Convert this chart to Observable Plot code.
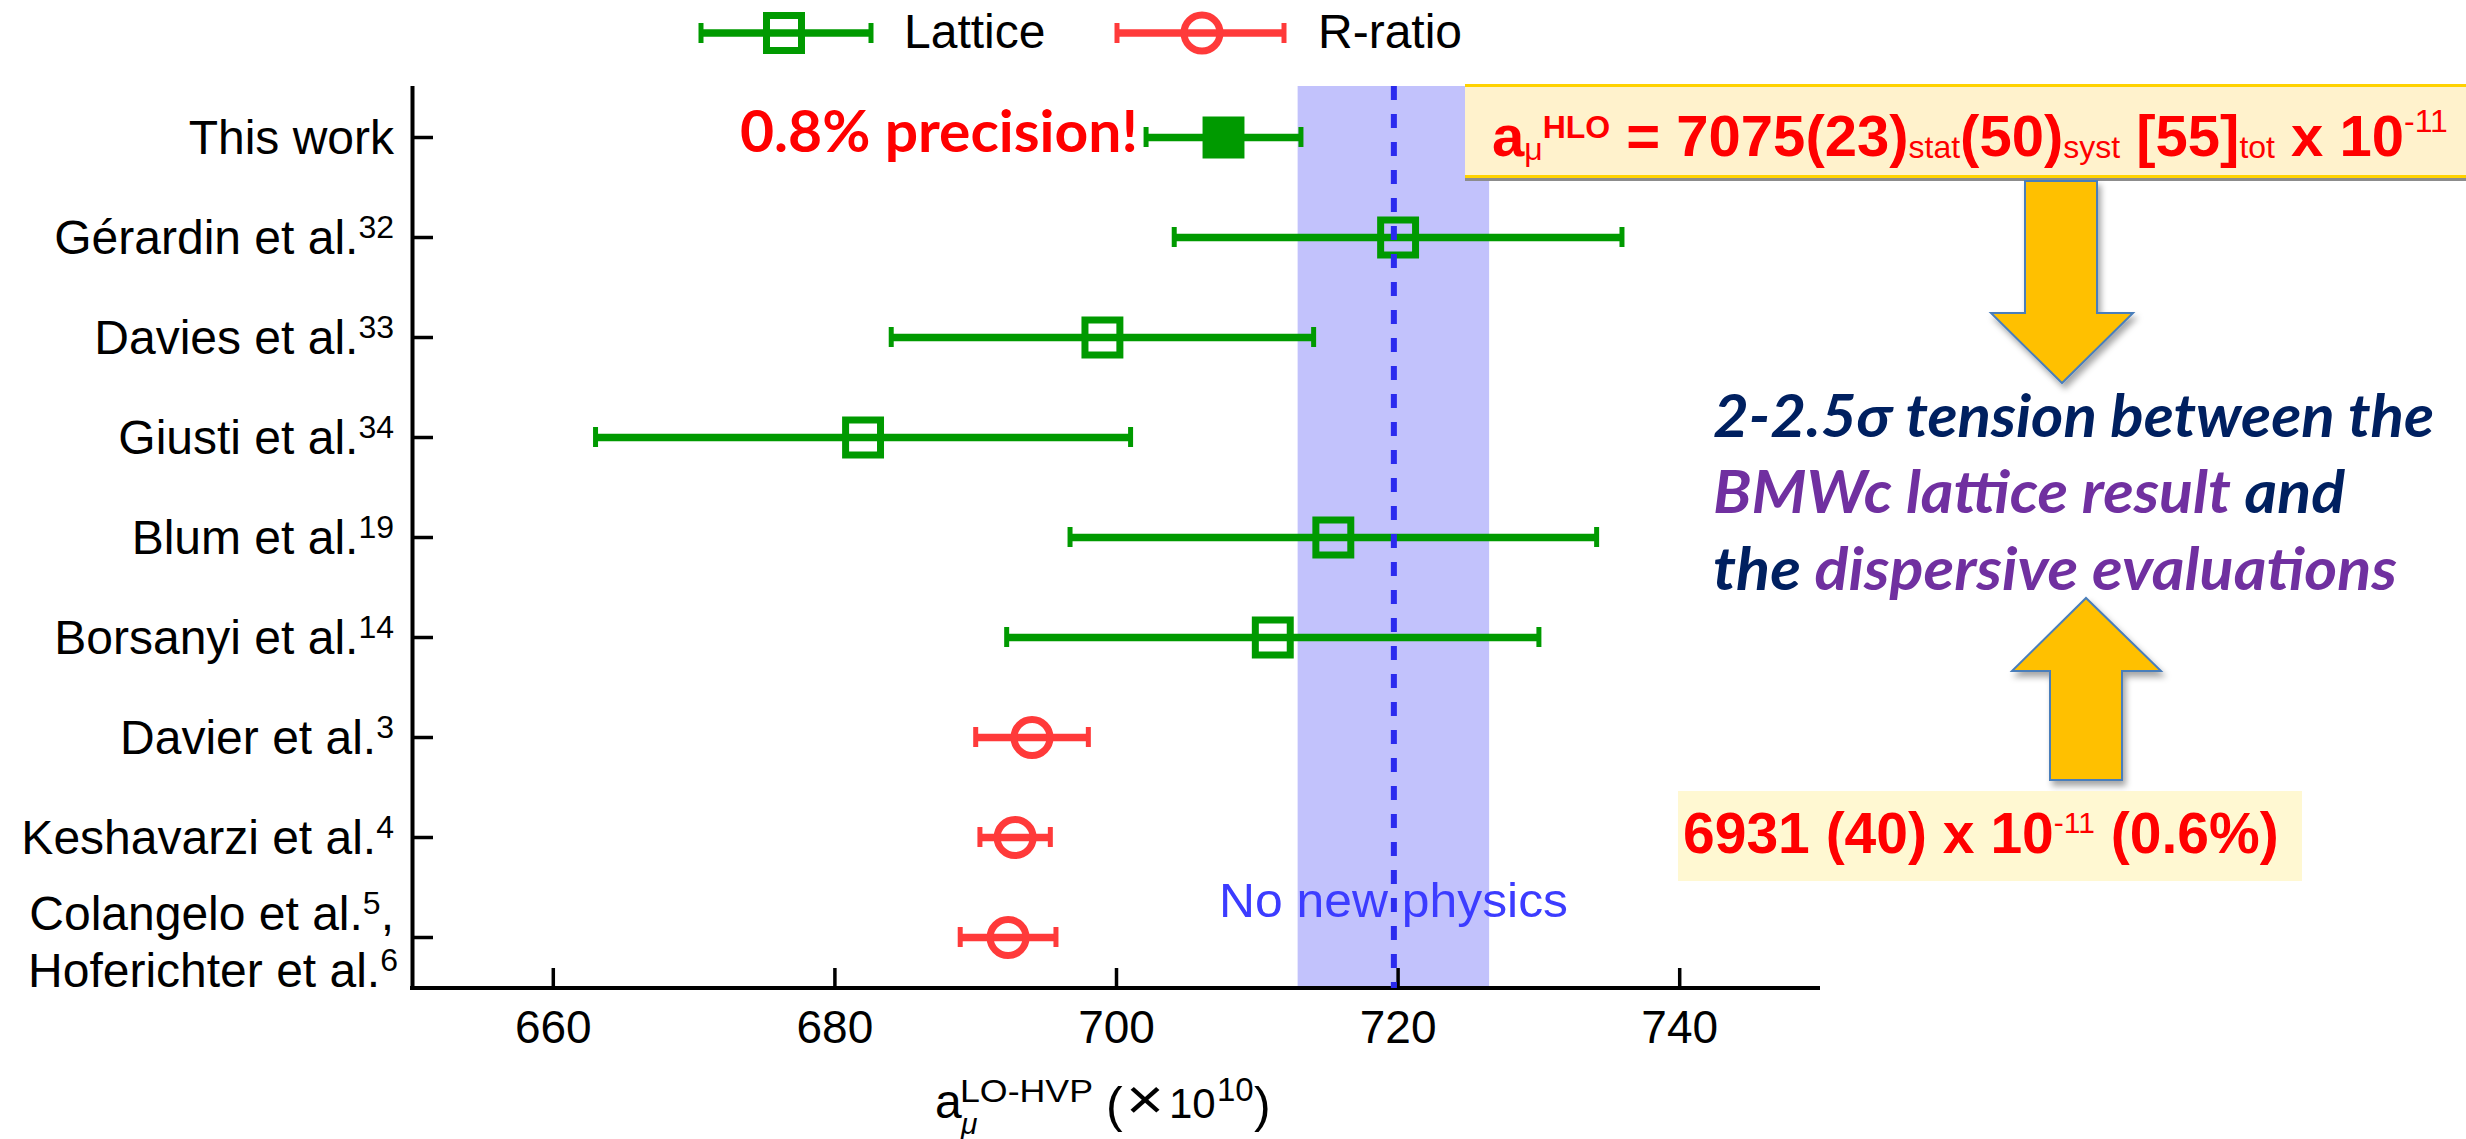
<!DOCTYPE html>
<html><head><meta charset="utf-8">
<script src="https://cdn.jsdelivr.net/npm/d3@7"></script>
<script src="https://cdn.jsdelivr.net/npm/@observablehq/plot@0.6"></script>
<style>
html,body{margin:0;padding:0;background:#fff;}
svg{display:block;}
</style></head><body><div id="chart"></div>
<script>
// ---- data ----
const studies = ["This work","Gérardin et al.","Davies et al.","Giusti et al.","Blum et al.","Borsanyi et al.","Davier et al.","Keshavarzi et al.","Colangelo et al."];
const refs = ["","32","33","34","19","14","3","4","5"];
const secondLine = ["","","","","","","","","Hoferichter et al."];
const secondRef = ["","","","","","","","","6"];
const methods = ["Lattice","Lattice","Lattice","Lattice","Lattice","Lattice","R-ratio","R-ratio","R-ratio"];
const values = [707.6, 720.0, 699.0, 682.0, 715.4, 711.1, 694.0, 692.8, 692.3];
const errors = [5.5, 15.9, 15.0, 19.0, 18.7, 18.9, 4.0, 2.5, 3.4];
const filled = [true,false,false,false,false,false,false,false,false];
const xTicks = [660, 680, 700, 720, 740];
const xDomain = [650, 750];
const band = [{lo: 712.9, hi: 726.5, center: 719.7}];

const rows = studies.map((s, i) => ({
  study: s, ref: refs[i], method: methods[i], value: values[i], err: errors[i],
  lo: values[i] - errors[i], hi: values[i] + errors[i], filled: filled[i]
}));

const W = 2466, H = 1139;
const green = "#009a00", red = "#ff3a3a";
const sans = "'Liberation Sans', Arial, Helvetica, sans-serif";
const cal = "Lato, 'Open Sans', sans-serif";

const plot = Plot.plot({
  width: W, height: H,
  marginLeft: 412, marginRight: W - 1820, marginTop: 86, marginBottom: H - 988,
  x: {domain: xDomain, ticks: xTicks, tickSize: 0, tickPadding: 22, label: null},
  y: {type: "point", domain: studies, padding: 0.5, axis: null},
  color: {domain: ["Lattice", "R-ratio"], range: [green, red]},
  style: {fontFamily: sans, fontSize: "46px", background: "white", color: "black"},
  marks: [
    Plot.rect(band, {x1: "lo", x2: "hi", fill: "#c2c2fc"}),
    // axes
    Plot.ruleX([xDomain[0]], {stroke: "black", strokeWidth: 4}),
    Plot.rect([{a: xDomain[0], b: xDomain[1]}], {x1: "a", x2: "b", fill: "black", insetTop: 900, insetBottom: -2, insetLeft: -2}),
    Plot.ruleX(xTicks, {x: d => d, stroke: "black", strokeWidth: 3.5, insetTop: 902 - 20}),
    Plot.ruleY(studies, {y: d => d, stroke: "black", strokeWidth: 3.5, insetRight: 1408 - 21}),
    // error bars
    Plot.ruleY(rows, {y: "study", x1: "lo", x2: "hi", stroke: "method", strokeWidth: 7.5}),
    Plot.ruleX(rows, {x: "lo", y1: "study", y2: "study", stroke: "method", strokeWidth: 5, insetTop: -10, insetBottom: -10}),
    Plot.ruleX(rows, {x: "hi", y1: "study", y2: "study", stroke: "method", strokeWidth: 5, insetTop: -10, insetBottom: -10}),
    // markers
    Plot.dot(rows.filter(d => d.method === "Lattice" && !d.filled), {x: "value", y: "study", symbol: "square", r: 19.7, stroke: green, strokeWidth: 7, fill: "none"}),
    Plot.dot(rows.filter(d => d.filled), {x: "value", y: "study", symbol: "square", r: 19.7, stroke: green, strokeWidth: 7, fill: green}),
    Plot.dot(rows.filter(d => d.method === "R-ratio"), {x: "value", y: "study", symbol: "circle", r: 18, stroke: red, strokeWidth: 7, fill: "none"}),
    // no-new-physics line
    Plot.ruleX(band, {x: "center", stroke: "#2a2aee", strokeWidth: 6, strokeDasharray: "14,14"})
  ]
});
document.getElementById("chart").appendChild(plot);

const svgEl = plot.tagName.toLowerCase() === "svg" ? plot : plot.querySelector("svg");
const svg0 = d3.select(svgEl);
const yS = plot.scale("y");

// defs: shadow
const defs = svg0.append("defs");
const f = defs.append("filter").attr("id", "sh").attr("x", "-20%").attr("y", "-20%").attr("width", "150%").attr("height", "150%");
f.append("feDropShadow").attr("dx", 3).attr("dy", 5).attr("stdDeviation", 3).attr("flood-color", "#000").attr("flood-opacity", 0.35);

// annotation layer
const svg = svg0.append("g").attr("text-anchor", "start");
function T(parent, x, y, size, family) {
  return parent.append("text").attr("x", x).attr("y", y).attr("text-anchor", "start")
    .attr("font-size", size).attr("font-family", family || sans);
}

// "No new physics" text, placed under the dashed line
const dashedNode = svgEl.querySelector("[stroke-dasharray]");
const nnp = document.createElementNS("http://www.w3.org/2000/svg", "text");
d3.select(nnp).attr("x", 1219).attr("y", 917).attr("text-anchor", "start").attr("font-family", sans).attr("font-size", 48)
  .attr("fill", "#3c3cff").attr("textLength", 349).attr("lengthAdjust", "spacingAndGlyphs").text("No new physics");
dashedNode.parentNode.insertBefore(nnp, dashedNode);

// y tick labels with superscripts
const labX = 394;
rows.forEach((d, i) => {
  const y = yS.apply(d.study);
  const two = secondLine[i] !== "";
  const t = svg.append("text").attr("x", labX).attr("y", two ? y - 7 : y + 17)
    .attr("text-anchor", "end").attr("font-family", sans).attr("font-size", 48).attr("fill", "black");
  t.append("tspan").text(d.study);
  if (d.ref) t.append("tspan").attr("font-size", 32).attr("dy", -16).text(d.ref);
  if (two) {
    t.append("tspan").attr("dy", 16).text(",");
    const t2 = svg.append("text").attr("x", labX + 4).attr("y", y + 50)
      .attr("text-anchor", "end").attr("font-family", sans).attr("font-size", 48).attr("fill", "black");
    t2.append("tspan").text(secondLine[i]);
    t2.append("tspan").attr("font-size", 32).attr("dy", -16).text(secondRef[i]);
  }
});

// x axis title
const xt = svg.append("g").attr("fill", "black");
T(xt, 935, 1118, 48).text("a");
T(xt, 960, 1102, 32).attr("textLength", 133).attr("lengthAdjust", "spacingAndGlyphs").text("LO-HVP");
T(xt, 961, 1134, 30).attr("font-style", "italic").text("μ");
T(xt, 1106, 1122, 50).text("(");
T(xt, 1126, 1119, 58).attr("textLength", 38).attr("lengthAdjust", "spacingAndGlyphs").text("×");
T(xt, 1169, 1118, 42).text("10");
T(xt, 1217, 1101, 33).text("10");
T(xt, 1254, 1122, 50).text(")");

// legend
const lg = svg.append("g");
const ly = 33;
function legendBar(x1, x2, color, sw) {
  lg.append("line").attr("x1", x1).attr("x2", x2).attr("y1", ly).attr("y2", ly).attr("stroke", color).attr("stroke-width", sw);
  [x1, x2].forEach(x => lg.append("line").attr("x1", x).attr("x2", x).attr("y1", ly - 10).attr("y2", ly + 10).attr("stroke", color).attr("stroke-width", 5));
}
legendBar(701, 871, green, 7.5);
lg.append("rect").attr("x", 784 - 17.5).attr("y", ly - 17.5).attr("width", 35).attr("height", 35).attr("fill", "none").attr("stroke", green).attr("stroke-width", 7);
T(lg, 904, 48, 48).text("Lattice");
legendBar(1117, 1284, red, 7.5);
lg.append("circle").attr("cx", 1202).attr("cy", ly).attr("r", 18).attr("fill", "none").attr("stroke", red).attr("stroke-width", 7);
T(lg, 1318, 48, 48).text("R-ratio");

// "0.8% precision!"
T(svg, 740, 152, 58, cal).attr("font-weight", "bold").attr("fill", "#ff0000")
  .attr("textLength", 398).attr("lengthAdjust", "spacingAndGlyphs").text("0.8% precision!");

// top result box
const tb = svg.append("g");
tb.append("rect").attr("x", 1465).attr("y", 85).attr("width", 1010).attr("height", 96).attr("fill", "#8c8c8c");
tb.append("rect").attr("x", 1465).attr("y", 85).attr("width", 1010).attr("height", 93).attr("fill", "#fff2cc");
tb.append("rect").attr("x", 1465).attr("y", 84).attr("width", 1010).attr("height", 3).attr("fill", "#ffd200");
tb.append("rect").attr("x", 1465).attr("y", 175).attr("width", 1010).attr("height", 3).attr("fill", "#ffd200");
const tt = T(tb, 1492, 156, 58).attr("font-weight", "bold").attr("fill", "#ff0000");
tt.append("tspan").text("a");
tt.append("tspan").attr("font-size", 32).attr("font-weight", "normal").attr("dy", 4).text("μ");
tt.append("tspan").attr("font-size", 32).attr("dy", -22).text("HLO");
tt.append("tspan").attr("dy", 18).text(" = 7075(23)");
tt.append("tspan").attr("font-size", 32).attr("font-weight", "normal").attr("dy", 2).text("stat");
tt.append("tspan").attr("dy", -2).text("(50)");
tt.append("tspan").attr("font-size", 32).attr("font-weight", "normal").attr("dy", 2).text("syst");
tt.append("tspan").attr("dy", -2).text(" [55]");
tt.append("tspan").attr("font-size", 32).attr("font-weight", "normal").attr("dy", 2).text("tot");
tt.append("tspan").attr("dy", -2).text(" x 10");
tt.append("tspan").attr("font-size", 32).attr("font-weight", "normal").attr("dy", -24).text("-11");

// arrows
const ar = svg.append("g").attr("fill", "#ffc000").attr("stroke", "#4a7ebb").attr("stroke-width", 2).attr("filter", "url(#sh)");
ar.append("polygon").attr("points", "2025,181 2097,181 2097,313 2133,313 2062,383 1991,313 2025,313");
ar.append("polygon").attr("points", "2050,780 2122,780 2122,671 2161,671 2086,598 2012,671 2050,671");

// tension text
const navy = "#002060", purple = "#7030a0";
const tx = svg.append("g").attr("font-weight", "bold").attr("font-style", "italic");
T(tx, 1713, 437, 60, cal).attr("fill", navy).attr("textLength", 721).attr("lengthAdjust", "spacingAndGlyphs").text("2-2.5σ tension between the");
const l2 = T(tx, 1713, 513, 60, cal).attr("textLength", 632).attr("lengthAdjust", "spacingAndGlyphs");
l2.append("tspan").attr("fill", purple).text("BMWc lattice result");
l2.append("tspan").attr("fill", navy).text(" and");
const l3 = T(tx, 1713, 590, 60, cal).attr("textLength", 684).attr("lengthAdjust", "spacingAndGlyphs");
l3.append("tspan").attr("fill", navy).text("the ");
l3.append("tspan").attr("fill", purple).text("dispersive evaluations");

// dispersive result box
const bb = svg.append("g");
bb.append("rect").attr("x", 1678).attr("y", 791).attr("width", 624).attr("height", 90).attr("fill", "#fff8d2");
const bt = T(bb, 1683, 853, 57).attr("font-weight", "bold").attr("fill", "#ff0000");
bt.append("tspan").text("6931 (40) x 10");
bt.append("tspan").attr("font-size", 30).attr("font-weight", "normal").attr("dy", -20).text("-11");
bt.append("tspan").attr("dy", 20).text(" (0.6%)");
</script>
</body></html>
